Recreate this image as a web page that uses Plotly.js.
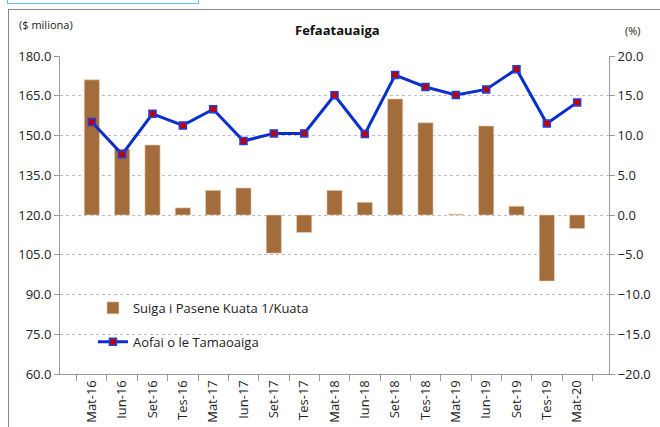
<!DOCTYPE html>
<html>
<head>
<meta charset="utf-8">
<script src="https://cdn.plot.ly/plotly-3.0.1.min.js"></script>
<style>
  html, body { margin: 0; padding: 0; background: #fff; }
  #wrap { position: relative; width: 660px; height: 427px; overflow: hidden; background: #fff; }
  #frame { position: absolute; left: 8px; top: 9px; width: 700px; height: 500px; border-left: 1px solid #8a8a8a; border-top: 1px solid #8a8a8a; }
  #sel { position: absolute; left: 7px; top: -2px; width: 190px; height: 5px; border: 1px solid #5cc3f2; border-top: none; }
  #chart { position: absolute; left: 0; top: 0; width: 660px; height: 427px; }
</style>
</head>
<body>
<div id="wrap">
  <div id="frame"></div>
  <div id="sel"></div>
  <div id="chart"></div>
</div>
<script>
const categories = ["Mat-16","Iun-16","Set-16","Tes-16","Mat-17","Iun-17","Set-17","Tes-17","Mat-18","Iun-18","Set-18","Tes-18","Mat-19","Iun-19","Set-19","Tes-19","Mat-20"];
const qoqChange = [17.0, 8.3, 8.8, 0.9, 3.1, 3.4, -4.8, -2.2, 3.1, 1.6, 14.6, 11.6, 0.1, 11.2, 1.1, -8.3, -1.7];
const tradeTotal = [155.1, 142.9, 158.2, 153.8, 159.9, 147.9, 150.8, 150.8, 165.2, 150.6, 172.8, 168.3, 165.3, 167.4, 175.0, 154.5, 162.5];
const barName = "Suiga i Pasene Kuata 1/Kuata";
const lineName = "Aofai o le Tamaoaiga";
const chartTitle = "Fefaatauaiga";
const leftUnit = "($ miliona)";
const rightUnit = "(%)";

const FONT = "Open Sans, Liberation Sans, sans-serif";

const data = [
  {
    type: "bar", name: barName, x: categories, y: qoqChange, yaxis: "y",
    width: 0.5, legendgroup: "a",
    marker: { color: "#A36D3B", line: { color: "#E9D2BC", width: 0.6 } }
  },
  {
    type: "scatter", mode: "lines+markers", name: lineName, x: categories, y: tradeTotal, yaxis: "y2",
    legendgroup: "b",
    line: { color: "#0A2FCC", width: 3 },
    marker: { symbol: "square", size: 7, color: "#C00000", line: { color: "#1F3FE0", width: 1.5 } }
  }
];

const layout = {
  width: 660, height: 427,
  margin: { l: 60, r: 51, t: 56, b: 53 },
  paper_bgcolor: "rgba(0,0,0,0)",
  plot_bgcolor: "rgba(0,0,0,0)",
  font: { family: FONT, size: 12, color: "#222" },
  showlegend: true,
  legend: {
    x: 0.06, y: 0.255, xanchor: "left", yanchor: "top",
    bgcolor: "rgba(255,255,255,0)", font: { family: FONT, size: 13, color: "#222" },
    tracegroupgap: 14, itemwidth: 30, traceorder: "grouped"
  },
  xaxis: {
    type: "category", tickson: "boundaries", ticks: "outside", ticklen: 6, tickcolor: "#9a9a9a",
    showline: true, linecolor: "#9a9a9a", linewidth: 1, showgrid: false,
    tickangle: -90, tickfont: { family: FONT, size: 13, color: "#222" }, fixedrange: true
  },
  yaxis: {
    range: [-20, 20], dtick: 5, tick0: -20, tickformat: ".1f", side: "right",
    showline: true, linecolor: "#9a9a9a", ticks: "outside", ticklen: 5, tickcolor: "#9a9a9a",
    showgrid: true, gridcolor: "#bdbdbd", griddash: "dot", gridwidth: 1, zeroline: false,
    tickfont: { family: FONT, size: 13, color: "#222" }
  },
  yaxis2: {
    range: [60, 180], dtick: 15, tick0: 60, tickformat: ".1f", overlaying: "y", side: "left",
    showline: true, linecolor: "#9a9a9a", ticks: "outside", ticklen: 5, tickcolor: "#9a9a9a",
    showgrid: false, zeroline: false,
    tickfont: { family: FONT, size: 13, color: "#222" }
  },
  annotations: [
    { text: "<b>" + chartTitle + "</b>", xref: "paper", yref: "paper", x: 0.506, y: 1.082, xanchor: "center", yanchor: "middle", showarrow: false, font: { family: FONT, size: 13, color: "#111" } },
    { text: leftUnit, xref: "paper", yref: "paper", x: -0.078, y: 1.1, xanchor: "left", yanchor: "middle", showarrow: false, font: { family: FONT, size: 11, color: "#222" } },
    { text: rightUnit, xref: "paper", yref: "paper", x: 1.025, y: 1.08, xanchor: "left", yanchor: "middle", showarrow: false, font: { family: FONT, size: 11, color: "#222" } }
  ]
};

Plotly.newPlot("chart", data, layout, { displayModeBar: false, staticPlot: true });
</script>
</body>
</html>
